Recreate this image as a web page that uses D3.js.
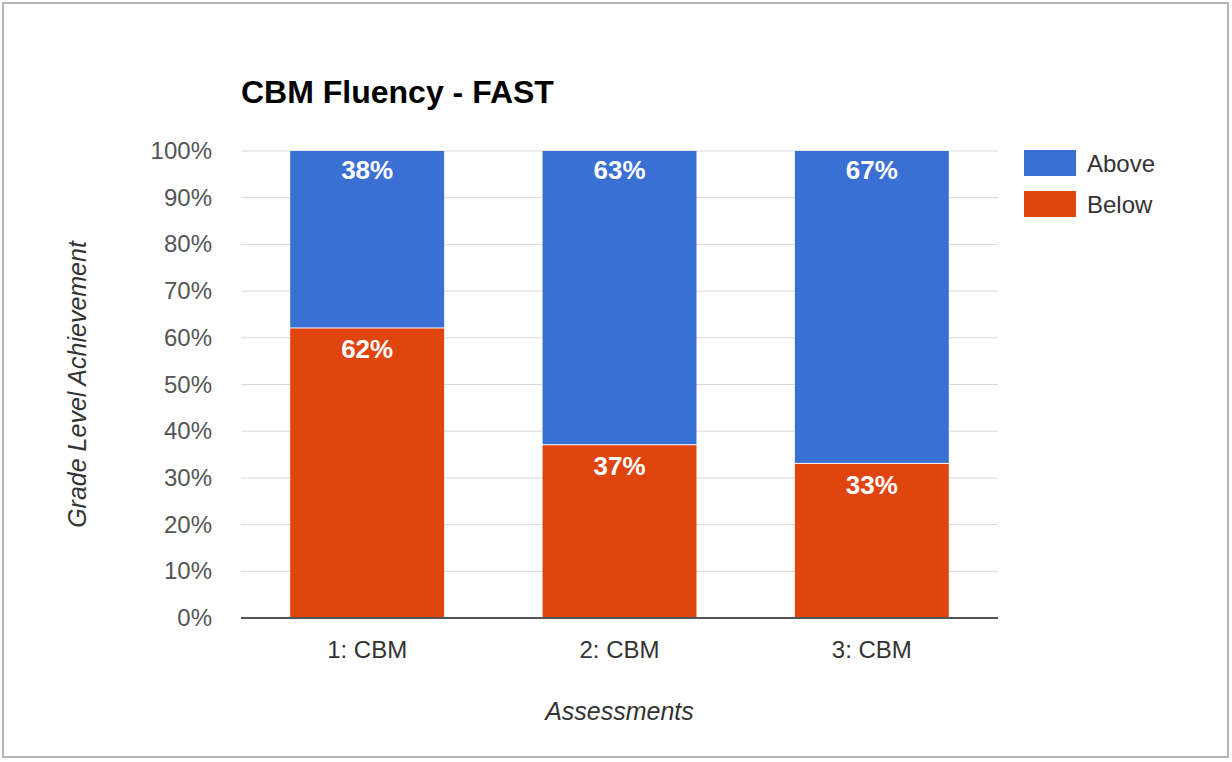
<!DOCTYPE html>
<html>
<head>
<meta charset="utf-8">
<script src="https://cdn.jsdelivr.net/npm/d3@7"></script>
<style>
  body { margin: 0; background: #fff; }
  svg { display: block; font-family: "Liberation Sans", Arial, sans-serif; }
</style>
</head>
<body>
<svg id="chart" width="1232" height="762"></svg>
<script>
// data
const categories = ['1: CBM', '2: CBM', '3: CBM'];
const below = [62, 37, 33];
const above = [38, 63, 67];
const seriesNames = ['Above', 'Below'];
const yTicks = [0, 10, 20, 30, 40, 50, 60, 70, 80, 90, 100];

const blueColor = '#3a6fd3';
const orangeColor = '#e0440f';

const svg = d3.select('#chart');

// outer frame
svg.append('rect')
  .attr('x', 3).attr('y', 3)
  .attr('width', 1225).attr('height', 754)
  .attr('fill', '#fff')
  .attr('stroke', '#b5b5b5')
  .attr('stroke-width', 2);

const plot = { left: 241, right: 998, top: 151, bottom: 618 };

const x = d3.scaleBand()
  .domain(categories)
  .range([plot.left, plot.right])
  .paddingInner(0.39)
  .paddingOuter(0.195);

const y = d3.scaleLinear()
  .domain([0, 100])
  .range([plot.bottom, plot.top]);

// gridlines
svg.append('g')
  .selectAll('line')
  .data(yTicks.filter(d => d > 0))
  .enter().append('line')
  .attr('x1', plot.left).attr('x2', plot.right)
  .attr('y1', d => y(d)).attr('y2', d => y(d))
  .attr('stroke', '#d9d9d9')
  .attr('stroke-width', 1);

// y tick labels
svg.append('g')
  .selectAll('text')
  .data(yTicks)
  .enter().append('text')
  .attr('x', 212)
  .attr('y', d => y(d) + 8)
  .attr('text-anchor', 'end')
  .attr('font-size', 24)
  .attr('fill', '#555')
  .text(d => d + '%');

// stacked bars
const rows = categories.map((c, i) => ({ cat: c, below: below[i], above: above[i] }));

const bars = svg.append('g');
rows.forEach(r => {
  bars.append('rect')
    .attr('x', x(r.cat))
    .attr('y', y(r.below))
    .attr('width', x.bandwidth())
    .attr('height', y(0) - y(r.below))
    .attr('fill', orangeColor);
  bars.append('rect')
    .attr('x', x(r.cat))
    .attr('y', y(r.below + r.above))
    .attr('width', x.bandwidth())
    .attr('height', y(r.below) - y(r.below + r.above) - 1)
    .attr('fill', blueColor);

  // value labels near the top of each segment
  bars.append('text')
    .attr('x', x(r.cat) + x.bandwidth() / 2)
    .attr('y', y(r.below + r.above) + 28)
    .attr('text-anchor', 'middle')
    .attr('font-size', 26)
    .attr('font-weight', 'bold')
    .attr('fill', '#fff')
    .text(r.above + '%');
  bars.append('text')
    .attr('x', x(r.cat) + x.bandwidth() / 2)
    .attr('y', y(r.below) + 30)
    .attr('text-anchor', 'middle')
    .attr('font-size', 26)
    .attr('font-weight', 'bold')
    .attr('fill', '#fff')
    .text(r.below + '%');
});

// baseline
svg.append('line')
  .attr('x1', plot.left).attr('x2', plot.right)
  .attr('y1', y(0)).attr('y2', y(0))
  .attr('stroke', '#555')
  .attr('stroke-width', 2);

// x labels
svg.append('g')
  .selectAll('text')
  .data(categories)
  .enter().append('text')
  .attr('x', d => x(d) + x.bandwidth() / 2)
  .attr('y', 658)
  .attr('text-anchor', 'middle')
  .attr('font-size', 24)
  .attr('fill', '#333')
  .text(d => d);

// title
svg.append('text')
  .attr('x', 241).attr('y', 103)
  .attr('font-size', 32)
  .attr('font-weight', 'bold')
  .attr('fill', '#000')
  .text('CBM Fluency - FAST');

// axis titles
svg.append('text')
  .attr('x', (plot.left + plot.right) / 2)
  .attr('y', 720)
  .attr('text-anchor', 'middle')
  .attr('font-size', 25)
  .attr('font-style', 'italic')
  .attr('fill', '#333')
  .text('Assessments');

svg.append('text')
  .attr('transform', 'translate(86,' + ((plot.top + plot.bottom) / 2) + ') rotate(-90)')
  .attr('text-anchor', 'middle')
  .attr('font-size', 25)
  .attr('font-style', 'italic')
  .attr('fill', '#333')
  .text('Grade Level Achievement');

// legend
const legendColors = [blueColor, orangeColor];
const legend = svg.append('g');
seriesNames.forEach((name, i) => {
  legend.append('rect')
    .attr('x', 1024).attr('y', 150 + i * 41)
    .attr('width', 52).attr('height', 26)
    .attr('fill', legendColors[i]);
  legend.append('text')
    .attr('x', 1087).attr('y', 172 + i * 41)
    .attr('font-size', 24)
    .attr('fill', '#333')
    .text(name);
});
</script>
</body>
</html>
